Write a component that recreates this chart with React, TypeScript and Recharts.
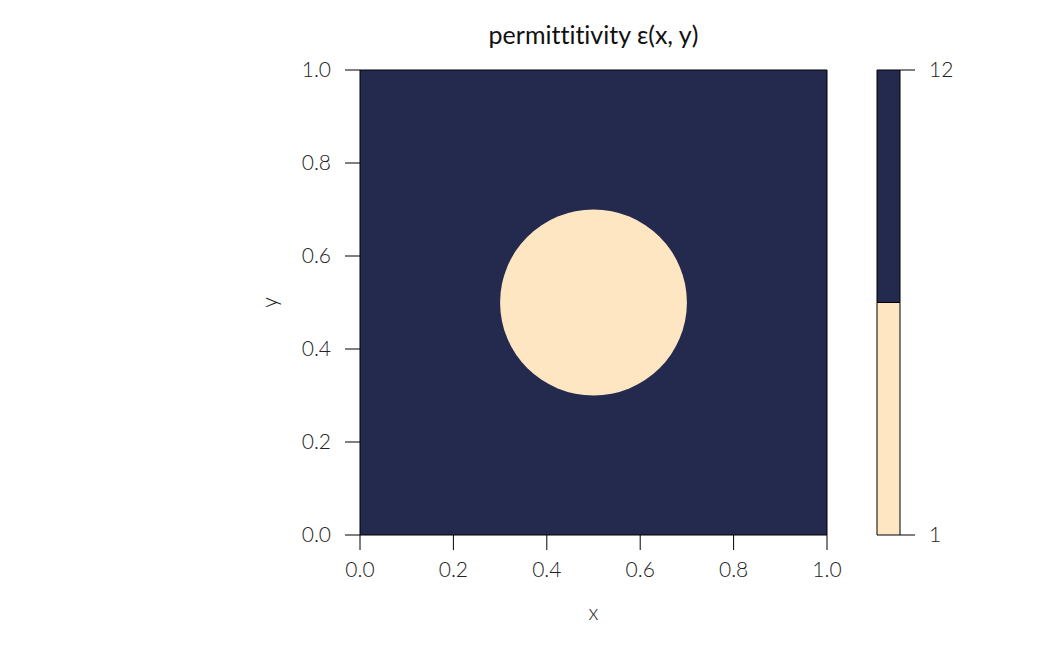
import React from "react";
import {
  ComposedChart, BarChart, Bar, Scatter, XAxis, YAxis, ReferenceArea,
} from "recharts";

// permittivity field: background value with one circular inclusion
const epsLevels = [1, 12];
const inclusionCenter = [0.5, 0.5];
const inclusionRadius = [0.2];
const axisTicks = [0, 0.2, 0.4, 0.6, 0.8, 1.0];

const DARK = "#242a4d";
const LIGHT = "#fee6c3";
const FONT = "Lato, 'Noto Sans', sans-serif";

const tickStyle = { fill: "#222", fontSize: 21, fontFamily: FONT, fontWeight: 300 };

const colorbarRow: any[] = [
  Object.fromEntries(epsLevels.map((_, i) => ["lvl" + i, 1])),
];
colorbarRow[0].name = "eps";

const centerPoint = [{ x: inclusionCenter[0], y: inclusionCenter[1] }];

const Disc = (p: any) => (
  <ellipse
    cx={p.x + p.width / 2}
    cy={p.y + p.height / 2}
    rx={Math.abs(p.width) / 2}
    ry={Math.abs(p.height) / 2}
    fill={LIGHT}
  />
);

export default function App() {
  const [cx, cy] = inclusionCenter;
  const r = inclusionRadius[0];
  return (
    <div style={{ position: "absolute", left: 0, top: 0, width: 1050, height: 648, background: "#fff" }}>
      <div
        style={{
          position: "absolute", left: 360, width: 467, top: 19, textAlign: "center",
          fontFamily: FONT, fontSize: 25, color: "#111", fontVariantLigatures: "none",
        }}
      >
        permittitivity ε(x, y)
      </div>

      <div style={{ position: "absolute", left: 0, top: 0 }}>
        <ComposedChart width={1050} height={648} data={centerPoint}
          margin={{ top: 70, right: 223, bottom: 23, left: 265 }}>
          <XAxis
            type="number"
            dataKey="x"
            domain={[0, 1]}
            ticks={axisTicks}
            tickFormatter={(v: number) => v.toFixed(1)}
            axisLine={false}
            tickSize={15}
            tickMargin={12}
            tickLine={{ stroke: "#000" }}
            tick={tickStyle}
            height={90}
            label={{ value: "x", position: "insideBottom", offset: 5, style: tickStyle }}
          />
          <YAxis
            type="number"
            dataKey="y"
            domain={[0, 1]}
            ticks={axisTicks}
            tickFormatter={(v: number) => v.toFixed(1)}
            axisLine={false}
            tickSize={15}
            tickMargin={14}
            tickLine={{ stroke: "#000" }}
            tick={tickStyle}
            width={95}
            label={{
              content: (props: any) => {
                const vb = props.viewBox;
                const lx = vb.x + 3;
                const ly = vb.y + vb.height / 2;
                return (
                  <text x={lx} y={ly} transform={`rotate(-90 ${lx} ${ly})`} textAnchor="middle"
                    dominantBaseline="central" style={tickStyle}>y</text>
                );
              },
            }}
          />
          <ReferenceArea x1={0} x2={1} y1={0} y2={1} fill={DARK} fillOpacity={1} stroke="#000" strokeWidth={1} />
          <ReferenceArea x1={cx - r} x2={cx + r} y1={cy - r} y2={cy + r} shape={Disc} />
          <Scatter data={centerPoint} dataKey="y" shape={() => <g />} isAnimationActive={false} />
        </ComposedChart>
      </div>

      <div style={{ position: "absolute", left: 870, top: 0 }}>
        <BarChart width={120} height={648} data={colorbarRow} barCategoryGap={0}
          margin={{ top: 70, right: 30, bottom: 113, left: 7 }}>
          <XAxis dataKey="name" hide />
          <YAxis
            orientation="right"
            type="number"
            domain={[0, epsLevels.length]}
            ticks={[0, epsLevels.length]}
            tickFormatter={(v: number) => String(v === 0 ? epsLevels[0] : epsLevels[epsLevels.length - 1])}
            axisLine={false}
            tickSize={15}
            tickMargin={14}
            tickLine={{ stroke: "#000" }}
            tick={tickStyle}
            width={60}
          />
          {epsLevels.map((_, i) => (
            <Bar key={i} dataKey={"lvl" + i} stackId="cb" fill={i === 0 ? LIGHT : DARK}
              stroke="#000" strokeWidth={1} isAnimationActive={false} />
          ))}
        </BarChart>
      </div>
    </div>
  );
}
